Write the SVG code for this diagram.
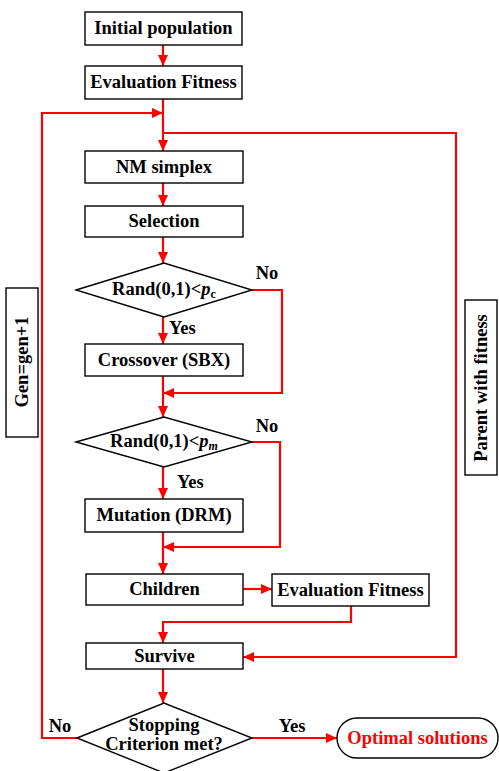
<svg xmlns="http://www.w3.org/2000/svg" width="499" height="771" viewBox="0 0 499 771">
<style>
.box{fill:#fff;stroke:#000;stroke-width:1.4}
.t{font-family:"Liberation Serif","Times New Roman",serif;font-weight:bold;font-size:18.5px;fill:#000;text-anchor:middle}
.lbl{font-family:"Liberation Serif","Times New Roman",serif;font-weight:bold;font-size:18.5px;fill:#000}
.red{fill:#ff0000}
.c{fill:none;stroke:#ff0000;stroke-width:2.2;stroke-linejoin:miter}
</style>
<defs>
<marker id="ah" markerUnits="userSpaceOnUse" markerWidth="12" markerHeight="10" refX="11" refY="5" orient="auto">
<path d="M0,0 L11,5 L0,10 z" fill="#ff0000"/>
</marker>
</defs>
<rect width="499" height="771" fill="#fff"/>
<g id="connectors">
<path class="c" d="M163,45 V66" marker-end="url(#ah)"/>
<path class="c" d="M163,99 V151" marker-end="url(#ah)"/>
<path class="c" d="M77,738 H42 V113 H163" marker-end="url(#ah)"/>
<path class="c" d="M163,133 H456 V657 H243" marker-end="url(#ah)"/>
<path class="c" d="M163,183 V206" marker-end="url(#ah)"/>
<path class="c" d="M163,237 V263" marker-end="url(#ah)"/>
<path class="c" d="M163,317 V344" marker-end="url(#ah)"/>
<path class="c" d="M252,290 H282 V393 H163" marker-end="url(#ah)"/>
<path class="c" d="M163,376 V417" marker-end="url(#ah)"/>
<path class="c" d="M163,467 V499" marker-end="url(#ah)"/>
<path class="c" d="M252,442 H280 V547 H163" marker-end="url(#ah)"/>
<path class="c" d="M163,532 V574" marker-end="url(#ah)"/>
<path class="c" d="M243,589 H272" marker-end="url(#ah)"/>
<path class="c" d="M351,606 V622 H163 V643" marker-end="url(#ah)"/>
<path class="c" d="M163,669 V703" marker-end="url(#ah)"/>
<path class="c" d="M252,738 H337" marker-end="url(#ah)"/>
<text class="lbl" x="267" y="279" text-anchor="middle">No</text>
<text class="lbl" x="169" y="334">Yes</text>
<text class="lbl" x="267" y="432" text-anchor="middle">No</text>
<text class="lbl" x="177" y="488">Yes</text>
<text class="lbl" x="60" y="732" text-anchor="middle">No</text>
<text class="lbl" x="292" y="732" text-anchor="middle">Yes</text>
</g>
<g id="initial">
<rect class="box" x="85" y="12" width="157" height="33"/>
<text class="t" x="163.5" y="34">Initial population</text>
</g>
<g id="eval1">
<rect class="box" x="85" y="66" width="157" height="33"/>
<text class="t" x="163.5" y="88">Evaluation Fitness</text>
</g>
<g id="nm">
<rect class="box" x="85" y="151" width="158" height="32"/>
<text class="t" x="164" y="173">NM simplex</text>
</g>
<g id="selection">
<rect class="box" x="85" y="206" width="158" height="31"/>
<text class="t" x="164" y="227">Selection</text>
</g>
<g id="decision1">
<polygon class="box" points="76,290 164,263 252,290 164,317"/>
<text class="t" x="164" y="295">Rand(0,1)&lt;<tspan font-style="italic">p</tspan><tspan font-size="12" dy="3">c</tspan></text>
</g>
<g id="crossover">
<rect class="box" x="85" y="344" width="158" height="32"/>
<text class="t" x="164" y="366">Crossover (SBX)</text>
</g>
<g id="decision2">
<polygon class="box" points="76,442 164,417 252,442 164,467"/>
<text class="t" x="164" y="447">Rand(0,1)&lt;<tspan font-style="italic">p</tspan><tspan font-size="12" font-style="italic" dy="3">m</tspan></text>
</g>
<g id="mutation">
<rect class="box" x="85" y="499" width="158" height="33"/>
<text class="t" x="164" y="521">Mutation (DRM)</text>
</g>
<g id="children">
<rect class="box" x="86" y="574" width="157" height="31"/>
<text class="t" x="164.5" y="595">Children</text>
</g>
<g id="eval2">
<rect class="box" x="272" y="574" width="157" height="32"/>
<text class="t" x="350.5" y="596">Evaluation Fitness</text>
</g>
<g id="survive">
<rect class="box" x="86" y="643" width="157" height="26"/>
<text class="t" x="164.5" y="662">Survive</text>
</g>
<g id="decision3">
<polygon class="box" points="77,738 164,703 252,738 164,773"/>
<text class="t" x="164" y="731">Stopping</text>
<text class="t" x="164" y="750">Criterion met?</text>
</g>
<g id="optimal">
<rect class="box" x="337" y="718" width="161" height="40" rx="20" ry="20"/>
<text class="t" x="417.5" y="744" style="fill:#ff0000">Optimal solutions</text>
</g>
<g id="gen">
<rect class="box" x="6" y="288" width="32" height="149"/>
<text class="t" transform="translate(28,362) rotate(-90)">Gen=gen+1</text>
</g>
<g id="parent">
<rect class="box" x="465" y="300" width="32" height="175"/>
<text class="t" transform="translate(487,388) rotate(-90)">Parent with fitness</text>
</g>
</svg>
